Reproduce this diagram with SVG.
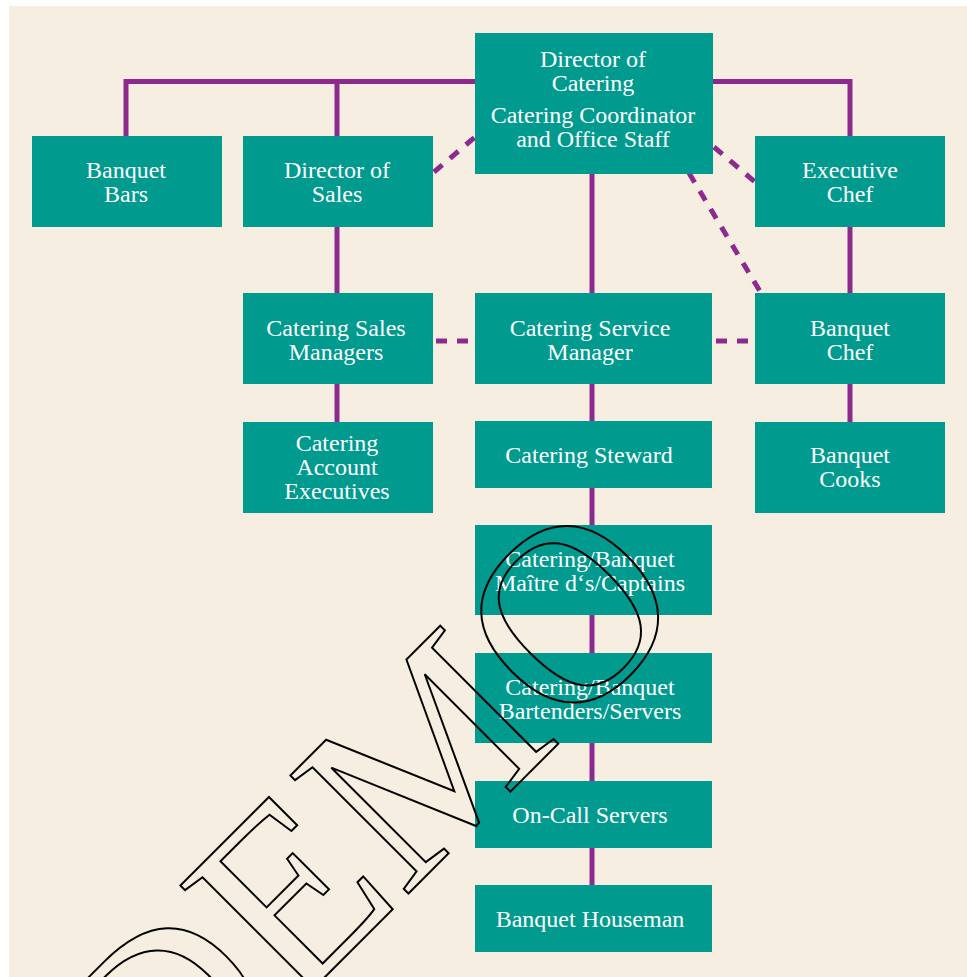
<svg xmlns="http://www.w3.org/2000/svg" width="967" height="977" viewBox="0 0 967 977">
  <style>
    .box { fill: #009A8F; }
    .lbl { font-family: "Liberation Serif", "Times New Roman", serif; font-size: 24px; fill: #FFFFFF; text-anchor: middle; }
    .solid { stroke: #8E2A8E; stroke-width: 5; fill: none; }
    .dash { stroke: #8E2A8E; stroke-width: 5; fill: none; stroke-dasharray: 11 10; }
    .wm { font-family: "Liberation Serif", "Times New Roman", serif; font-size: 255px; fill: none; stroke: #000000; stroke-width: 2; }
  </style>
  <rect x="0" y="0" width="967" height="977" fill="#FFFFFF"/>
  <rect x="9" y="6" width="958" height="971" fill="#F6EFE1"/>

  <g id="connectors">
    <polyline class="solid" points="126,136 126,81.5 850,81.5 850,136"/>
    <line class="solid" x1="337" y1="81.5" x2="337" y2="136"/>
    <line class="solid" x1="337" y1="227" x2="337" y2="293"/>
    <line class="solid" x1="337" y1="384" x2="337" y2="422"/>
    <line class="solid" x1="850" y1="227" x2="850" y2="293"/>
    <line class="solid" x1="850" y1="384" x2="850" y2="422"/>
    <line class="solid" x1="592" y1="174" x2="592" y2="885"/>
    <line class="dash" x1="434" y1="172" x2="475" y2="137"/>
    <line class="dash" x1="714" y1="147" x2="755" y2="182"/>
    <line class="dash" x1="689" y1="173" x2="761" y2="293"/>
    <line class="dash" x1="436" y1="341" x2="473" y2="341"/>
    <line class="dash" x1="716" y1="341" x2="755" y2="341"/>
  </g>

  <g id="director-of-catering">
    <rect class="box" x="475" y="33" width="238" height="141"/>
    <text class="lbl" x="593" y="67">Director of</text>
    <text class="lbl" x="593" y="91">Catering</text>
    <text class="lbl" x="593" y="123">Catering Coordinator</text>
    <text class="lbl" x="593" y="147">and Office Staff</text>
  </g>
  <g id="banquet-bars">
    <rect class="box" x="32" y="136" width="190" height="91"/>
    <text class="lbl" x="126" y="178">Banquet</text>
    <text class="lbl" x="126" y="202">Bars</text>
  </g>
  <g id="director-of-sales">
    <rect class="box" x="243" y="136" width="190" height="91"/>
    <text class="lbl" x="337" y="178">Director of</text>
    <text class="lbl" x="337" y="202">Sales</text>
  </g>
  <g id="executive-chef">
    <rect class="box" x="755" y="136" width="190" height="91"/>
    <text class="lbl" x="850" y="178">Executive</text>
    <text class="lbl" x="850" y="202">Chef</text>
  </g>
  <g id="catering-sales-managers">
    <rect class="box" x="243" y="293" width="190" height="91"/>
    <text class="lbl" x="336" y="336">Catering Sales</text>
    <text class="lbl" x="336" y="360">Managers</text>
  </g>
  <g id="catering-service-manager">
    <rect class="box" x="475" y="293" width="237" height="91"/>
    <text class="lbl" x="590" y="336">Catering Service</text>
    <text class="lbl" x="590" y="360">Manager</text>
  </g>
  <g id="banquet-chef">
    <rect class="box" x="755" y="293" width="190" height="91"/>
    <text class="lbl" x="850" y="336">Banquet</text>
    <text class="lbl" x="850" y="360">Chef</text>
  </g>
  <g id="catering-account-executives">
    <rect class="box" x="243" y="422" width="190" height="91"/>
    <text class="lbl" x="337" y="451">Catering</text>
    <text class="lbl" x="337" y="475">Account</text>
    <text class="lbl" x="337" y="499">Executives</text>
  </g>
  <g id="banquet-cooks">
    <rect class="box" x="755" y="422" width="190" height="91"/>
    <text class="lbl" x="850" y="463">Banquet</text>
    <text class="lbl" x="850" y="487">Cooks</text>
  </g>
  <g id="catering-steward">
    <rect class="box" x="475" y="421" width="237" height="67"/>
    <text class="lbl" x="589" y="463">Catering Steward</text>
  </g>
  <g id="maitre-d-captains">
    <rect class="box" x="475" y="525" width="237" height="90"/>
    <text class="lbl" x="590" y="567">Catering/Banquet</text>
    <text class="lbl" x="590" y="591">Maître d‘s/Captains</text>
  </g>
  <g id="bartenders-servers">
    <rect class="box" x="475" y="653" width="237" height="90"/>
    <text class="lbl" x="590" y="695">Catering/Banquet</text>
    <text class="lbl" x="590" y="719">Bartenders/Servers</text>
  </g>
  <g id="on-call-servers">
    <rect class="box" x="475" y="781" width="237" height="67"/>
    <text class="lbl" x="590" y="823">On-Call Servers</text>
  </g>
  <g id="banquet-houseman">
    <rect class="box" x="475" y="885" width="237" height="67"/>
    <text class="lbl" x="590" y="927">Banquet Houseman</text>
  </g>

  <text class="wm" x="0" y="0" transform="translate(163,1139) rotate(-45)">DEMO</text>
</svg>
